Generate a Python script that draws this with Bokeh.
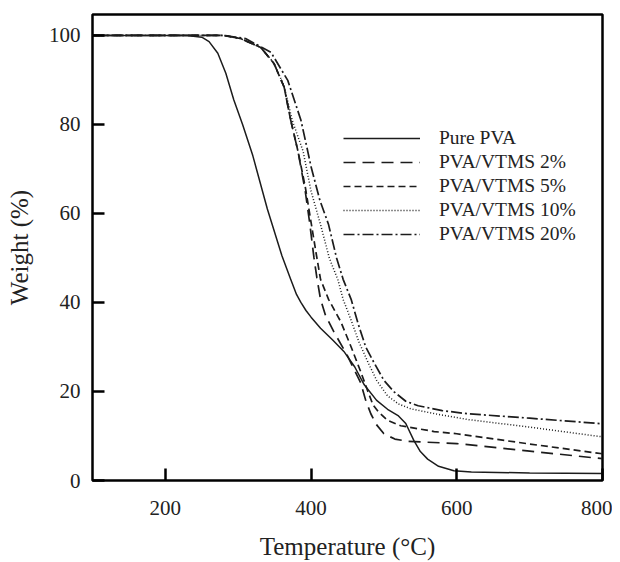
from bokeh.plotting import figure
from bokeh.models import Range1d, FixedTicker, Legend, LegendItem
from bokeh.embed import file_html
from bokeh.resources import INLINE

# ---- data ----
pure_t = [100, 230, 250, 260, 272, 283, 294, 306, 320, 340, 360, 372, 380, 386, 393, 400, 413, 430,
          445, 460, 473, 490, 505, 520, 530, 541, 550, 560, 575, 596, 620, 700, 800]
pure_w = [100, 100, 99.6, 98.6, 96, 91.5, 85.5, 80, 73, 61, 50.5, 45.2, 41.8, 40, 38.2, 36.7, 34.2,
          31.5, 29, 25.5, 21.5, 18, 16, 14.5, 12.8, 9, 6.5, 4.8, 3.2, 2.2, 1.9, 1.7, 1.6]

v2_t = [100, 280, 303, 331, 349, 363, 372, 382, 392, 398, 404, 408, 413, 420, 431, 450, 468,
        475, 482, 490, 500, 515, 533, 600, 700, 800]
v2_w = [100, 100, 99.3, 97.3, 93.7, 88.4, 81, 74, 65, 58, 50, 45.5, 40.7, 37, 33.5, 28, 22,
        18, 15, 12.5, 10.5, 9.3, 8.8, 8.3, 6.6, 4.9]

v5_t = [100, 280, 303, 331, 349, 363, 372, 382, 392, 400, 407, 413, 424, 441, 455, 468, 478,
        485, 492, 505, 523, 569, 600, 700, 800]
v5_w = [100, 100, 99.3, 97.3, 93.7, 88.4, 81, 74, 66, 58, 51, 45.2, 40.7, 35.6, 30, 24.5, 20,
        17, 15.5, 13.5, 12.3, 11, 10.5, 8.2, 6.0]

v10_t = [100, 280, 303, 331, 349, 363, 374, 389, 400, 413, 425, 437, 444, 455, 466, 478, 490,
         505, 520, 537, 570, 615, 700, 800]
v10_w = [100, 100, 99.3, 97.3, 93.8, 88.6, 81, 74, 65, 57.5, 50, 45, 40.7, 36, 31, 26.6, 22.5,
         19, 17.2, 16.1, 15, 13.7, 12, 9.8]

v20_t = [100, 280, 310, 345, 368, 386, 395, 400, 412, 424, 435, 444, 455, 465, 475, 486, 500,
         514, 530, 547, 580, 615, 700, 800]
v20_w = [100, 100, 99.3, 96.2, 89.9, 81, 74.3, 70.5, 63, 57.5, 50, 45.2, 40.7, 35, 30, 26.6,
         22.5, 19.9, 17.8, 16.8, 15.7, 15, 14, 12.75]

series_labels = ["Pure PVA", "PVA/VTMS 2%", "PVA/VTMS 5%", "PVA/VTMS 10%", "PVA/VTMS 20%"]
x_ticks = [200, 400, 600, 800]
y_ticks = [0, 20, 40, 60, 80, 100]

FONT = "Liberation Serif"
INK = "#1c1c1c"

p = figure(width=612, height=562, output_backend="svg", toolbar_location=None,
           x_range=Range1d(100, 800), y_range=Range1d(0, 104.7),
           min_border_left=92, min_border_top=14, min_border_right=10, min_border_bottom=80)
p.title.visible = False

p.xgrid.visible = False
p.ygrid.visible = False
p.outline_line_color = "black"
p.outline_line_width = 2.5
p.outline_line_alpha = 1
p.background_fill_color = "white"
p.border_fill_color = "white"

for ax in (p.xaxis[0], p.yaxis[0]):
    ax.axis_line_color = None
    ax.major_tick_in = 12
    ax.major_tick_out = 0
    ax.major_tick_line_width = 2.5
    ax.major_tick_line_color = "black"
    ax.minor_tick_line_color = None
    ax.major_label_text_font = FONT
    ax.major_label_text_font_size = "21px"
    ax.major_label_text_color = "#222222"
    ax.axis_label_text_font = FONT
    ax.axis_label_text_font_style = "normal"
    ax.axis_label_text_font_size = "25px"
    ax.axis_label_text_color = "#222222"

p.xaxis[0].ticker = FixedTicker(ticks=x_ticks)
p.yaxis[0].ticker = FixedTicker(ticks=y_ticks)
p.xaxis[0].major_label_standoff = 20
p.yaxis[0].major_label_standoff = 12
p.xaxis.axis_label = "Temperature (\u00b0C)"
p.yaxis.axis_label = "Weight (%)"
p.xaxis[0].axis_label_standoff = 15
p.yaxis[0].axis_label_standoff = 13

r0 = p.line(pure_t, pure_w, line_color=INK, line_width=1.5)
r1 = p.line(v2_t, v2_w, line_color=INK, line_width=1.7, line_dash="12 7")
r2 = p.line(v5_t, v5_w, line_color=INK, line_width=1.7, line_dash="7 4")
r3 = p.line(v10_t, v10_w, line_color=INK, line_width=1.5, line_dash="1 2")
r4 = p.line(v20_t, v20_w, line_color=INK, line_width=1.7, line_dash="11 3 2 3")

items = [LegendItem(label=lab, renderers=[r]) for lab, r in
         zip(series_labels, [r0, r1, r2, r3, r4])]
legend = Legend(items=items, location=(251, 235), orientation="vertical",
                glyph_width=77, glyph_height=20, label_height=20, spacing=2,
                padding=0, margin=0, label_standoff=19,
                label_text_font=FONT, label_text_font_size="19.5px", label_text_color="#222222",
                border_line_color=None, background_fill_alpha=0)
p.add_layout(legend, "center")

open("out.html", "w").write(file_html(p, INLINE))
